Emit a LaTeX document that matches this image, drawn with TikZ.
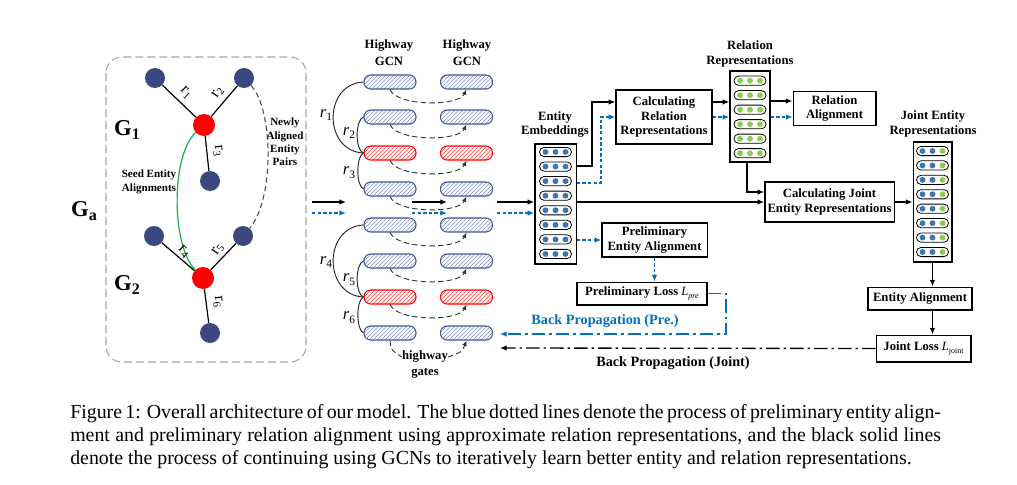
\documentclass[tikz,border=0pt]{standalone}
\usepackage{fontspec}
\setmainfont{Liberation Serif}
\usetikzlibrary{arrows.meta,patterns,calc}
\definecolor{navy}{RGB}{59,72,128}
\definecolor{bluebar}{RGB}{68,84,150}
\definecolor{hatchblue}{RGB}{130,145,195}
\definecolor{pblue}{RGB}{0,112,192}
\definecolor{dotblue}{RGB}{62,117,176}
\definecolor{dotgreen}{RGB}{140,205,80}
\definecolor{sgreen}{RGB}{20,175,80}
\begin{document}
\begin{tikzpicture}[x=0.75pt,y=-0.75pt,
  lbl/.style={font=\bfseries\fontsize{9.5}{11.2}\selectfont, align=center, inner sep=0pt},
  biglbl/.style={font=\bfseries\fontsize{10.7}{12}\selectfont, align=center, inner sep=0pt},
  smalllbl/.style={font=\bfseries\fontsize{8.3}{10}\selectfont, align=center, inner sep=0pt},
  box/.style={draw, line width=1pt, fill=white, align=center, inner sep=0pt, font=\bfseries\fontsize{9.5}{11.2}\selectfont},
  ent/.style={circle, fill=navy, minimum size=15pt, inner sep=0pt},
  redent/.style={circle, fill=red, minimum size=16.5pt, inner sep=0pt},
  bar/.style={rectangle, rounded corners=5pt, minimum width=39pt, minimum height=10.5pt, inner sep=0pt, draw=bluebar, line width=0.8pt, pattern=north east lines, pattern color=hatchblue},
  redbar/.style={bar, draw=red, pattern color=red!75},
  arr/.style={-{Latex[length=5pt,width=4.2pt]}, line width=1pt},
  barr/.style={arr, pblue, dash pattern=on 2.5pt off 1.7pt},
  edgelbl/.style={font=\fontsize{12}{12}\selectfont, inner sep=0pt},
  rl/.style={font=\fontsize{12.5}{13}\selectfont, inner sep=0pt},
  captxt/.style={font=\fontsize{14.9}{17}\selectfont, inner sep=0pt, anchor=base west}
]
\useasboundingbox (0,0) rectangle (1017,485);

% ---------- left panel ----------
\draw[gray!70, line width=0.8pt, dash pattern=on 6pt off 3pt, rounded corners=12pt] (106,57) rectangle (306,362);
\node[ent] (a1) at (155,78) {};
\node[ent] (a2) at (244,78) {};
\node[redent] (c1) at (204,125) {};
\node[ent] (a3) at (210,181) {};
\node[ent] (b1) at (154,236) {};
\node[ent] (b2) at (243,236) {};
\node[redent] (c2) at (203,278) {};
\node[ent] (b3) at (210,333) {};
\draw[line width=0.9pt] (a1) -- (c1) (a2) -- (c1) (c1) -- (a3);
\draw[line width=0.9pt] (b1) -- (c2) (b2) -- (c2) (c2) -- (b3);
\draw[sgreen, line width=0.9pt] (c1) .. controls (171,155) and (171,245) .. (c2);
\draw[gray!60!black, line width=0.8pt, dash pattern=on 4pt off 2.5pt] (a2) .. controls (274,110) and (274,200) .. (b2);
\node[edgelbl, rotate=-45] (l1) at (186,93) {r\textsubscript{1}};
\node[edgelbl, rotate=55] (l2) at (218,92) {r\textsubscript{2}};
\node[edgelbl, rotate=-84] (l3) at (218,151) {r\textsubscript{3}};
\node[edgelbl, rotate=-45] (l4) at (184,252) {r\textsubscript{4}};
\node[edgelbl, rotate=55] (l5) at (218,249) {r\textsubscript{5}};
\node[edgelbl, rotate=-83] (l6) at (218,302) {r\textsubscript{6}};
\node[font=\bfseries\fontsize{17}{18}\selectfont, inner sep=0pt] (g1) at (127,130) {G\raisebox{-0.3ex}{\fontsize{12}{12}\selectfont 1}};
\node[font=\bfseries\fontsize{17}{18}\selectfont, inner sep=0pt] (g2) at (127,285) {G\raisebox{-0.3ex}{\fontsize{12}{12}\selectfont 2}};
\node[font=\bfseries\fontsize{17}{18}\selectfont, inner sep=0pt] (ga) at (84,211) {G\raisebox{-0.4ex}{\fontsize{12}{12}\selectfont a}};
\node[smalllbl] (newly) at (285,142) {Newly\\Aligned\\Entity\\Pairs};
\node[smalllbl] (seed) at (149,182) {Seed Entity\\Alignments};

% ---------- arrows between panels ----------
\coordinate (p1s) at (312,202); \coordinate (p1e) at (346,202);
\coordinate (q1s) at (312,213); \coordinate (q1e) at (346,213);
\coordinate (p2s) at (412,202); \coordinate (p2e) at (447,202);
\coordinate (q2s) at (412,213); \coordinate (q2e) at (447,213);
\coordinate (p3s) at (497,202);
\coordinate (q3s) at (497,213);

% ---------- highway GCN ----------
\node[lbl, font=\bfseries\fontsize{9.5}{12.7}\selectfont] (hw1) at (389,53) {Highway\\GCN};
\node[lbl, font=\bfseries\fontsize{9.5}{12.7}\selectfont] (hw2) at (467,53) {Highway\\GCN};
\foreach \i/\y/\s in {1/82/bar,2/117/bar,3/153/redbar,4/189/bar,5/225/bar,6/261/bar,7/297/redbar,8/333/bar} {
  \node[\s] (u\i) at (390,\y) {};
  \node[\s] (v\i) at (466.5,\y) {};
}
\foreach \i in {1,...,7} {
  \draw[gray!40!black, line width=0.7pt, dash pattern=on 4pt off 2.5pt, -{Latex[length=4pt,width=3.5pt]}]
    (u\i.south) .. controls ($(u\i.south)+(7,17)$) and ($(v\i.south)+(-8,17)$) .. (v\i.south);
}
\node[lbl] (hgw) at (425,357) {highway};
\node[lbl] (gts) at (425,373) {gates};
\draw[gray!40!black, line width=0.7pt, dash pattern=on 4pt off 2.5pt] (u8.south) .. controls (391,350) .. (hgw.west);
\draw[gray!40!black, line width=0.7pt, dash pattern=on 4pt off 2.5pt, -{Latex[length=4pt,width=3.5pt]}] (hgw.east) .. controls (462,352) .. (v8.south);
\draw[line width=0.7pt, gray!30!black] (u1.west) .. controls (323,84) and (323,151) .. (u3.west);
\draw[line width=0.7pt, gray!30!black] (u2.west) .. controls (355,120) and (355,150) .. (u3.west);
\draw[line width=0.7pt, gray!30!black] (u3.west) .. controls (356,156) and (356,186) .. (u4.west);
\draw[line width=0.7pt, gray!30!black] (u5.west) .. controls (323,227) and (323,295) .. (u7.west);
\draw[line width=0.7pt, gray!30!black] (u6.west) .. controls (355,264) and (355,294) .. (u7.west);
\draw[line width=0.7pt, gray!30!black] (u7.west) .. controls (356,300) and (356,330) .. (u8.west);
\node[rl] (m1) at (326,115) {\itshape r\upshape\raisebox{-0.5ex}{\fontsize{8.5}{8.5}\selectfont 1}};
\node[rl] (m2) at (349,133) {\itshape r\upshape\raisebox{-0.5ex}{\fontsize{8.5}{8.5}\selectfont 2}};
\node[rl] (m3) at (349,173) {\itshape r\upshape\raisebox{-0.5ex}{\fontsize{8.5}{8.5}\selectfont 3}};
\node[rl] (m4) at (326,262) {\itshape r\upshape\raisebox{-0.5ex}{\fontsize{8.5}{8.5}\selectfont 4}};
\node[rl] (m5) at (349,280) {\itshape r\upshape\raisebox{-0.5ex}{\fontsize{8.5}{8.5}\selectfont 5}};
\node[rl] (m6) at (349,318) {\itshape r\upshape\raisebox{-0.5ex}{\fontsize{8.5}{8.5}\selectfont 6}};

% ---------- right part boxes ----------
\node[box, minimum width=31pt, minimum height=90pt] (entemb) at (555.5,204) {};
\node[lbl] (entembl) at (555,124.5) {Entity\\Embeddings};
\node[box, minimum width=72pt, minimum height=40.5pt] (calcrel) at (664,117) {Calculating\\Relation\\Representations};
\node[box, minimum width=30pt, minimum height=68pt] (relrep) at (750,116.5) {};
\node[lbl] (relrepl) at (750,54) {Relation\\Representations};
\node[box, minimum width=62pt, minimum height=25pt] (relal) at (834.5,108.5) {Relation\\Alignment};
\node[box, minimum width=97pt, minimum height=30pt] (calcjoint) at (829.5,202) {Calculating Joint\\Entity Representations};
\node[box, minimum width=29pt, minimum height=90pt] (jointrep) at (932.5,202) {};
\node[lbl] (jointrepl) at (933,123.5) {Joint Entity\\Representations};
\node[box, minimum width=78pt, minimum height=17pt] (ental) at (920,298.5) {Entity Alignment};
\node[box, minimum width=71pt, minimum height=20pt] (jointloss) at (923.5,348.5) {Joint Loss \mdseries\itshape L\upshape\raisebox{-0.5ex}{\fontsize{6}{6}\selectfont joint}};
\node[box, minimum width=79pt, minimum height=25.5pt] (prelal) at (654.5,240) {Preliminary\\Entity Alignment};
\node[box, minimum width=97.5pt, minimum height=17pt] (prelloss) at (642,293.5) {Preliminary Loss \mdseries\itshape L\raisebox{-0.5ex}{\fontsize{6}{6}\selectfont pre}};

% pills
\foreach \k in {0,...,7} {
  \pgfmathsetmacro\yy{152+\k*14.57}
  \draw[line width=0.6pt, rounded corners=3.4pt] (539.5,\yy-4.6) rectangle (571.5,\yy+4.6);
  \foreach \x in {545.5,555.5,565.5} \fill[dotblue] (\x,\yy) circle (2.2pt);
}
\foreach \k in {0,...,5} {
  \pgfmathsetmacro\yy{80.7+\k*14.5}
  \draw[line width=0.6pt, rounded corners=3.4pt] (734,\yy-4.6) rectangle (766,\yy+4.6);
  \foreach \x in {740,750,760} \fill[dotgreen] (\x,\yy) circle (2.2pt);
}
\foreach \k in {0,...,7} {
  \pgfmathsetmacro\yy{151+\k*14.43}
  \draw[line width=0.6pt, rounded corners=3.4pt] (916.5,\yy-4.6) rectangle (948.5,\yy+4.6);
  \fill[dotblue] (922.5,\yy) circle (2.2pt);
  \fill[dotblue] (932.5,\yy) circle (2.2pt);
  \fill[dotgreen] (942.5,\yy) circle (2.2pt);
}

% ---------- connectors ----------
\draw[arr] (p1s) -- (p1e);
\draw[barr] (q1s) -- (q1e);
\draw[arr] (p2s) -- (p2e);
\draw[barr] (q2s) -- (q2e);
\draw[arr] (p3s) -- (entemb.west |- p3s);
\draw[barr] (q3s) -- (entemb.west |- q3s);

\draw[arr] (entemb.east |- 0,166) -- (592,166) -- (592,102) -- (calcrel.west |- 0,102);
\draw[barr] (entemb.east |- 0,183) -- (601,183) -- (601,117) -- (calcrel.west |- 0,117);
\draw[arr] (entemb.east |- 0,202) -- (calcjoint.west);
\draw[barr] (entemb.east |- 0,240) -- (prelal.west);
\draw[arr] (calcrel.east |- 0,102) -- (relrep.west |- 0,102);
\draw[barr] (calcrel.east |- 0,117) -- (relrep.west |- 0,117);
\draw[arr] (relrep.east |- 0,101) -- (relal.west |- 0,101);
\draw[barr] (relrep.east |- 0,117) -- (relal.west |- 0,117);
\draw[arr] (747,0 |- relrep.south) -- (747,192) -- (calcjoint.west |- 0,192);
\draw[arr] (calcjoint.east) -- (jointrep.west |- calcjoint.east);
\draw[arr] (jointrep.south) -- (jointrep.south |- ental.north);
\draw[arr] (jointrep.south |- ental.south) -- (jointrep.south |- jointloss.north);
\draw[barr] (prelal.south) -- (prelal.south |- prelloss.north);
\coordinate (bpp) at (500,334);
\coordinate (bpj) at (500,348);
\draw[arr, pblue, dash pattern=on 10pt off 3pt on 2pt off 3pt] (prelloss.east) -- (726,0 |- prelloss.east) -- (726,334) -- (bpp);
\draw[arr, dash pattern=on 10pt off 3pt on 2pt off 3pt] (jointloss.west) -- (bpj);
\node[biglbl, pblue] (bppl) at (605,321) {Back Propagation (Pre.)};
\node[biglbl] (bpjl) at (673,363) {Back Propagation (Joint)};

% ---------- caption ----------
\node[captxt] (cap1) at (70,418) {\makebox[653pt][s]{Figure 1: Overall architecture of our model. The blue dotted lines denote the process of preliminary entity align-}};
\node[captxt] (cap2) at (70,441) {\makebox[653pt][s]{ment and preliminary relation alignment using approximate relation representations, and the black solid lines}};
\node[captxt] (cap3) at (70,464) {denote the process of continuing using GCNs to iteratively learn better entity and relation representations.};
\end{tikzpicture}
\end{document}
